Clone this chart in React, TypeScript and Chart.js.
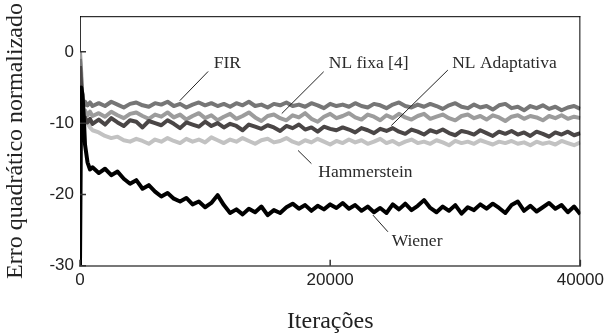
import React, { useEffect, useRef } from 'react';
import { Chart, registerables } from 'chart.js';

Chart.register(...registerables);

// Iteration sample points (x values)
const iterations: number[] = [
  0, 100, 200, 300, 400, 600, 800, 1000,
  ...Array.from({ length: 78 }, (_, i) => 1500 + i * 500),
];

const xTicks = [0, 20000, 40000];
const yTicks = [-30, -20, -10, 0];

const fir = [
  -1, -4, -6.5, -7.6, -7.0, -7.5, -7.1, -7.6,
  -7.2, -7.6, -7.0, -7.4, -7.8, -7.3, -7.1, -7.5, -7.7, -7.2,
  -7.4, -7.0, -7.6, -7.3, -7.8, -7.4, -7.1, -7.5, -7.2, -7.6,
  -7.3, -7.7, -7.2, -7.5, -7.0, -7.6, -7.4, -7.8, -7.3, -7.5,
  -7.1, -7.6, -7.4, -7.7, -7.2, -7.5, -7.9, -7.3, -7.6, -7.4,
  -7.7, -7.2, -7.6, -7.8, -7.3, -7.5, -7.9, -7.4, -7.1, -7.6,
  -7.8, -7.4, -7.7, -7.3, -7.6, -8.0, -7.5, -7.2, -7.7, -7.9,
  -7.4, -7.8, -7.6, -8.1, -7.5, -7.3, -7.9, -7.7, -8.2, -7.6,
  -7.9, -7.5, -8.0, -7.7, -8.2, -7.8, -7.6, -8.0,
];

const nlFixa = [
  0, -3, -7.5, -8.6, -8.2, -8.9, -8.4, -9.0,
  -8.6, -9.1, -8.4, -8.9, -9.3, -8.7, -8.5, -9.0, -9.4, -8.8,
  -9.1, -8.5, -9.2, -8.8, -9.5, -9.0, -8.6, -9.3, -8.9, -9.6,
  -9.1, -8.7, -9.4, -9.0, -8.5, -9.2, -9.7, -9.0, -8.8, -9.3,
  -9.6, -8.9, -9.2, -8.6, -9.4, -9.8, -9.1, -8.7, -9.3, -9.0,
  -8.6, -9.2, -9.5, -8.8, -9.1, -9.6, -8.9, -9.3, -8.7, -9.2,
  -9.5, -9.0, -8.7, -9.4, -9.1, -8.8, -9.3, -9.6, -9.0, -8.8,
  -9.3, -9.0, -9.5, -8.9, -9.2, -9.7, -9.1, -8.9, -9.4, -9.0,
  -9.2, -9.6, -9.0, -9.3, -8.9, -9.4, -9.1, -9.3,
];

const nlAdaptativa = [
  -2, -5, -8.5, -9.8, -9.2, -9.9, -9.4, -10.1,
  -9.5, -10.2, -9.3, -9.9, -10.4, -9.6, -9.8, -10.6, -9.7, -10.0,
  -10.3, -9.6, -10.1, -10.7, -9.9, -10.2, -10.5, -9.8, -10.4, -10.0,
  -10.6, -10.1, -10.4, -11.0, -10.2, -10.5, -10.8, -10.3, -10.6, -11.1,
  -10.4, -10.7, -10.2, -10.9, -10.6, -11.2, -10.5, -10.8, -11.0, -10.6,
  -10.9, -11.3, -10.7, -11.0, -11.4, -10.8, -11.1, -10.7, -11.2, -11.5,
  -10.9, -11.2, -11.6, -11.0, -11.3, -10.9, -11.4, -11.7, -11.1, -11.3,
  -11.6, -11.0, -11.4, -11.8, -11.2, -11.5, -11.1, -11.6, -11.3, -11.8,
  -11.2, -11.5, -11.9, -11.3, -11.6, -11.2, -11.7, -11.4,
];

const hammerstein = [
  -4, -6, -8, -9.0, -9.4, -10.0, -10.6, -11.0,
  -11.3, -11.8, -12.1, -11.9, -12.4, -12.6, -12.2, -12.5, -12.9, -12.3,
  -12.6, -12.1, -12.5, -12.8, -12.2, -12.6, -12.3, -12.7, -12.0, -12.4,
  -12.8, -12.3, -12.6, -12.1, -12.5, -12.9, -12.4, -12.2, -12.7, -12.5,
  -12.1, -12.6, -12.9, -12.4, -12.7, -12.2, -12.6, -13.0, -12.5, -12.8,
  -12.3, -12.7, -12.4, -12.9, -12.6, -12.2, -12.8, -12.5, -13.0, -12.6,
  -12.3, -12.8, -12.6, -12.9, -12.4, -12.7, -13.1, -12.5, -12.8, -12.6,
  -12.9, -12.4, -12.7, -13.0, -12.6, -12.8, -12.5, -12.9, -12.7, -13.1,
  -12.6, -12.9, -12.7, -13.0, -12.5, -12.8, -13.1, -12.7,
];

const wiener = [
  -30, -5, -6, -9, -13, -15.5, -16.5, -16.2,
  -17.0, -16.4, -17.3, -16.8, -17.8, -18.5, -18.0, -19.2, -18.7, -19.6,
  -20.3, -19.8, -20.6, -21.0, -20.5, -21.4, -21.0, -21.8, -21.2, -20.1,
  -21.5, -22.6, -22.1, -22.8, -22.0, -22.5, -21.7, -22.9, -22.2, -22.6,
  -21.8, -21.3, -22.0, -21.5, -22.3, -21.6, -22.1, -21.4, -21.9, -21.2,
  -22.0, -21.5, -22.3, -21.7, -22.5, -21.9, -22.6, -21.4, -22.1, -21.3,
  -22.2, -21.6, -20.8, -21.9, -22.5, -21.7, -22.3, -21.5, -22.7, -21.8,
  -22.2, -21.4, -22.0, -21.3, -21.9, -22.6, -21.5, -21.0, -22.3, -21.6,
  -22.4, -21.8, -21.2, -22.0, -21.5, -22.5, -21.7, -22.8,
];

// Annotation labels (data coordinates)
const labelTexts = ['FIR', 'NL fixa [4]', 'NL Adaptativa', 'Hammerstein', 'Wiener'];
const labelIter = [11776, 23074, 33932, 22818, 26946];
const labelDb = [-1.58, -1.61, -1.68, -16.97, -26.61];
const leaderFromIter = [10244, 19481, 29405, 17429, 23417];
const leaderFromDb = [-2.75, -2.79, -2.56, -13.83, -22.9];
const leaderToIter = [7984, 16128, 24886, 18499, 24615];
const leaderToDb = [-6.84, -8.66, -10.34, -15.68, -25.24];

const serif = '"Liberation Serif", "Times New Roman", serif';
const sans = '"Liberation Sans", Arial, sans-serif';

const toPoints = (vals: number[]) => iterations.map((it, i) => ({ x: it, y: vals[i] }));

const framePlugin = {
  id: 'frameAndNotes',
  afterDatasetsDraw(chart: any) {
    const { ctx, chartArea, scales } = chart;
    const { left, right, top, bottom } = chartArea;
    const x = scales.x;
    const y = scales.y;
    ctx.save();
    // top & right border
    ctx.strokeStyle = '#000';
    ctx.lineWidth = 1;
    ctx.beginPath();
    ctx.moveTo(left, top + 0.5);
    ctx.lineTo(right, top + 0.5);
    ctx.moveTo(right - 0.5, top);
    ctx.lineTo(right - 0.5, bottom);
    ctx.stroke();
    // inward ticks
    ctx.strokeStyle = '#333';
    ctx.lineWidth = 1.5;
    ctx.beginPath();
    x.ticks.forEach((t: any) => {
      const px = x.getPixelForValue(t.value);
      ctx.moveTo(px, bottom);
      ctx.lineTo(px, bottom - 6);
    });
    y.ticks.forEach((t: any) => {
      const py = y.getPixelForValue(t.value);
      ctx.moveTo(left, py);
      ctx.lineTo(left + 6, py);
    });
    ctx.stroke();
    // leader lines
    ctx.strokeStyle = '#222';
    ctx.lineWidth = 1;
    ctx.beginPath();
    for (let i = 0; i < labelTexts.length; i++) {
      ctx.moveTo(x.getPixelForValue(leaderFromIter[i]), y.getPixelForValue(leaderFromDb[i]));
      ctx.lineTo(x.getPixelForValue(leaderToIter[i]), y.getPixelForValue(leaderToDb[i]));
    }
    ctx.stroke();
    // labels
    ctx.fillStyle = '#2a2a2a';
    ctx.font = `17.5px ${serif}`;
    ctx.textAlign = 'center';
    ctx.textBaseline = 'middle';
    for (let i = 0; i < labelTexts.length; i++) {
      ctx.fillText(labelTexts[i], x.getPixelForValue(labelIter[i]), y.getPixelForValue(labelDb[i]));
    }
    ctx.restore();
  },
};

export default function App() {
  const canvasRef = useRef<HTMLCanvasElement | null>(null);

  useEffect(() => {
    if (!canvasRef.current) return;
    const chart = new Chart(canvasRef.current, {
      type: 'line',
      data: {
        datasets: [
          { label: 'Wiener', data: toPoints(wiener), borderColor: '#000000', borderWidth: 4 },
          { label: 'NL Adaptativa', data: toPoints(nlAdaptativa), borderColor: '#4a4646', borderWidth: 4 },
          { label: 'FIR', data: toPoints(fir), borderColor: '#767676', borderWidth: 4 },
          { label: 'NL fixa [4]', data: toPoints(nlFixa), borderColor: '#9c9c9c', borderWidth: 4 },
          { label: 'Hammerstein', data: toPoints(hammerstein), borderColor: '#c2c2c2', borderWidth: 4 },
        ].map((d) => ({ ...d, pointRadius: 0, tension: 0, borderJoinStyle: 'round' as const, fill: false })),
      },
      options: {
        animation: false,
        responsive: false,
        maintainAspectRatio: false,
        layout: { padding: { top: 16, right: 27, left: 0, bottom: 0 } },
        plugins: { legend: { display: false }, tooltip: { enabled: false } },
        scales: {
          x: {
            type: 'linear',
            min: 0,
            max: 40000,
            afterBuildTicks: (s: any) => { s.ticks = xTicks.map((v) => ({ value: v })); },
            afterFit: (s: any) => { s.height = 67.3; },
            grid: { display: false, drawTicks: false },
            border: { display: true, color: '#777777', width: 2 },
            ticks: {
              padding: 4,
              color: '#222',
              font: { family: sans, size: 17 },
              callback: (v: any) => String(v),
              maxRotation: 0,
            },
            title: {
              display: true,
              text: 'Iterações',
              color: '#222',
              font: { family: serif, size: 24 },
              padding: { top: 0, bottom: -3 },
            },
          },
          y: {
            type: 'linear',
            min: -30,
            max: 5,
            afterBuildTicks: (s: any) => { s.ticks = yTicks.map((v) => ({ value: v })); },
            afterFit: (s: any) => { s.width = 80; },
            grid: { display: false, drawTicks: false },
            border: { display: true, color: '#333333', width: 1 },
            ticks: {
              padding: 6,
              color: '#222',
              font: { family: sans, size: 17 },
              callback: (v: any) => String(v),
            },
            title: {
              display: true,
              text: 'Erro quadrático normalizado',
              color: '#222',
              font: { family: serif, size: 24 },
              padding: { top: 1, bottom: 0 },
            },
          },
        },
      },
      plugins: [framePlugin],
    });
    return () => chart.destroy();
  }, []);

  return (
    <div style={{ position: 'absolute', left: 0, top: 0, width: 608, height: 333 }}>
      <canvas ref={canvasRef} width={608} height={333} style={{ width: 608, height: 333 }} />
    </div>
  );
}
